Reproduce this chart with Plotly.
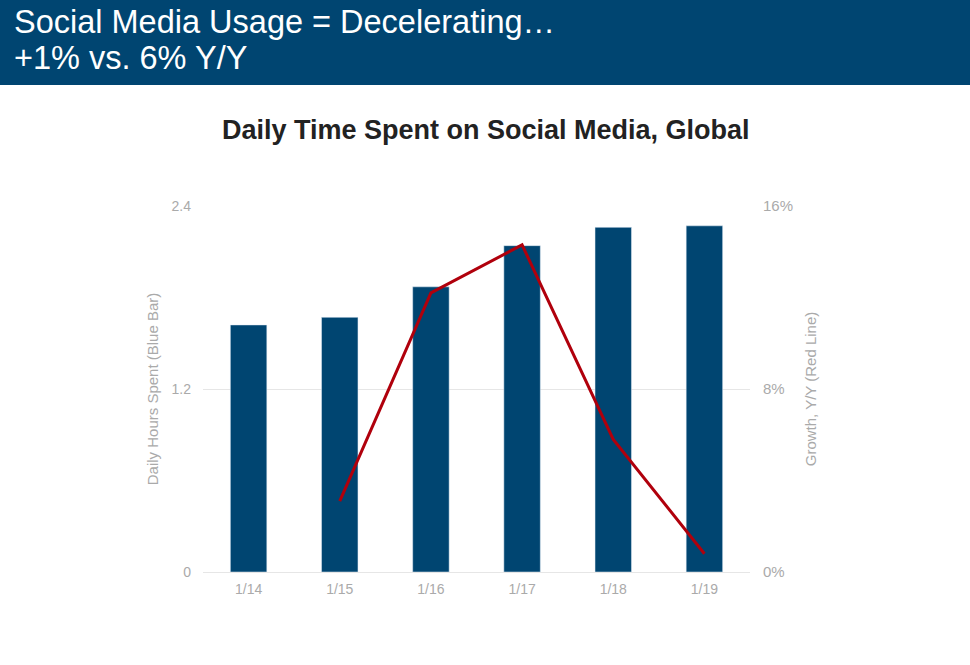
import plotly.graph_objects as go

categories = ["1/14", "1/15", "1/16", "1/17", "1/18", "1/19"]
daily_hours = [1.62, 1.67, 1.87, 2.14, 2.26, 2.27]
growth_yy = [None, 3.1, 12.2, 14.3, 5.8, 0.8]
left_ticks = [0, 1.2, 2.4]
left_tick_labels = ["0", "1.2", "2.4"]
right_ticks = [0, 8, 16]
right_tick_labels = ["0%", "8%", "16%"]

W, H = 970, 665
L, R, T, B = 203, 220, 206, 93
pw, ph = W - L - R, H - T - B

def px_x(x):
    return (x - L) / pw

def px_y(y):
    return (H - B - y) / ph

fig = go.Figure()
fig.add_trace(go.Bar(x=categories, y=daily_hours, marker_color="#004571",
                     width=0.4, yaxis="y", showlegend=False))
fig.add_trace(go.Scatter(x=categories, y=growth_yy, mode="lines",
                         line=dict(color="#b0000c", width=3), yaxis="y2",
                         showlegend=False, connectgaps=False))

font_family = "Liberation Sans, Arial, sans-serif"

fig.update_layout(
    width=W, height=H,
    margin=dict(l=L, r=R, t=T, b=B, autoexpand=False),
    paper_bgcolor="white", plot_bgcolor="white",
    font=dict(family=font_family),
    xaxis=dict(range=[-0.5, 5.5], showgrid=False, showline=True,
               linecolor="#e6e6e6", linewidth=1, ticks="",
               ticklabelstandoff=4,
               tickfont=dict(size=14, color="#aaaaaa")),
    yaxis=dict(range=[0, 2.4], tickvals=left_ticks, ticktext=left_tick_labels,
               showgrid=True, gridcolor="#e6e6e6", zeroline=False,
               showline=False, ticks="", ticklabelstandoff=11,
               tickfont=dict(size=14, color="#aaaaaa"),
               title=dict(text="Daily Hours Spent (Blue Bar)",
                          font=dict(size=15, color="#aaaaaa"), standoff=9)),
    yaxis2=dict(range=[0, 16], tickvals=right_ticks, ticktext=right_tick_labels,
                overlaying="y", side="right", showgrid=False, zeroline=False,
                showline=False, ticks="", ticklabelstandoff=12,
                tickfont=dict(size=15, color="#aaaaaa"),
                title=dict(text="Growth, Y/Y (Red Line)",
                           font=dict(size=15, color="#aaaaaa"), standoff=13)),
    bargap=0.6,
)

# header band
fig.add_shape(type="rect", xref="paper", yref="paper",
              x0=px_x(0), x1=px_x(W), y0=px_y(85), y1=px_y(0),
              fillcolor="#004571", line=dict(width=0), layer="below")
fig.add_annotation(xref="paper", yref="paper", x=px_x(12), y=px_y(22),
                   xanchor="left", yanchor="middle", showarrow=False,
                   text="Social Media Usage = Decelerating…",
                   font=dict(size=32.5, color="white", family=font_family))
fig.add_annotation(xref="paper", yref="paper", x=px_x(12), y=px_y(58),
                   xanchor="left", yanchor="middle", showarrow=False,
                   text="+1% vs. 6% Y/Y",
                   font=dict(size=32.5, color="white", family=font_family))
fig.add_annotation(xref="paper", yref="paper", x=px_x(486), y=px_y(130),
                   xanchor="center", yanchor="middle", showarrow=False,
                   text="<b>Daily Time Spent on Social Media, Global</b>",
                   font=dict(size=27, color="#222222", family=font_family))

fig.write_html("out.html",
               config={"displayModeBar": False},
               post_script="document.body.style.margin='0';document.body.style.overflow='hidden';")
